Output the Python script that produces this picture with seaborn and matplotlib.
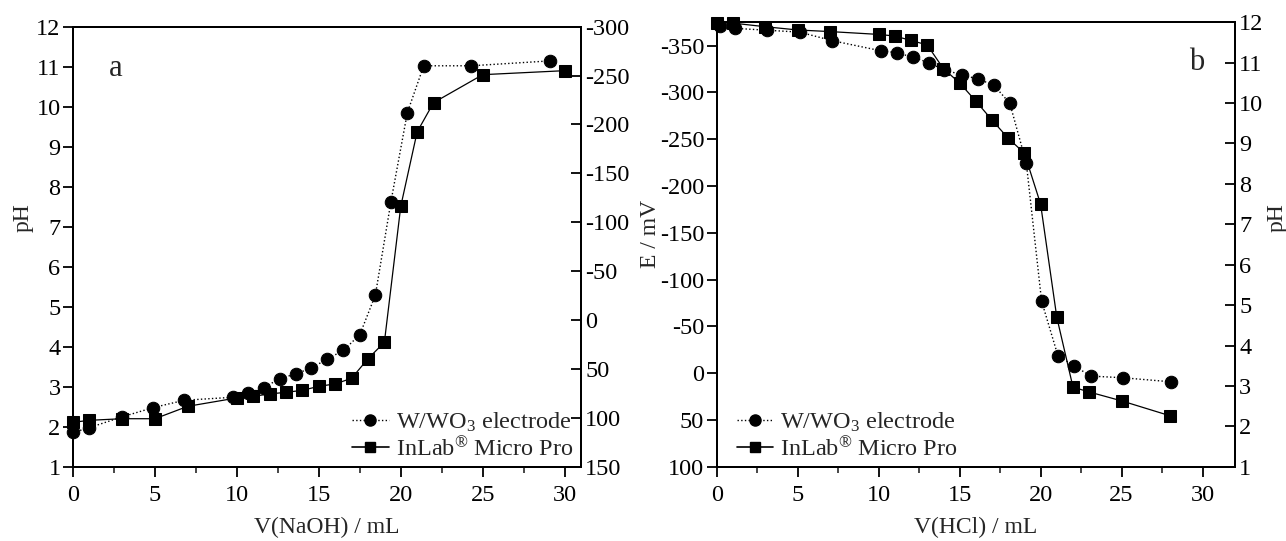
import matplotlib
matplotlib.use("Agg")
import matplotlib.pyplot as plt
from matplotlib.lines import Line2D
from matplotlib.ticker import MultipleLocator
import seaborn as sns

# ---------------- data ----------------
# panel a: titration with NaOH
a_w_v = [0, 1, 3, 4.9, 6.8, 9.75, 10.7, 11.65, 12.6, 13.6, 14.55, 15.5, 16.5, 17.5,
         18.45, 19.4, 20.4, 21.4, 24.3, 29.1]
a_w_e = [115, 110, 99, 89.5, 82, 79, 75, 69, 60, 55, 49, 40, 31, 15,
         -25.5, -121, -212, -260, -260, -265]
a_ref_v = [0, 1, 3, 5, 7, 10, 11, 12, 13, 14, 15, 16, 17, 18, 19, 20, 21, 22, 25, 30]
a_ref_ph = [2.11, 2.16, 2.2, 2.2, 2.51, 2.72, 2.76, 2.82, 2.86, 2.91, 3.01, 3.07, 3.21,
            3.7, 4.11, 7.51, 9.37, 10.1, 10.8, 10.9]

# panel b: titration with HCl
b_w_v = [0.2, 1.15, 3.12, 5.12, 7.15, 10.12, 11.12, 12.12, 13.1, 14.06, 15.12, 16.12,
         17.1, 18.1, 19.12, 20.06, 21.07, 22.06, 23.09, 25.07, 28.03]
b_w_e = [-371, -368.5, -366.5, -364.5, -355.3, -344.6, -342.5, -337.6, -331.8, -324,
         -319, -314.4, -308, -288.4, -224.3, -77.1, -18.6, -8, 3.1, 4.9, 9.2]
b_ref_v = [0, 1, 3, 5, 7, 10, 11, 12, 13, 14, 15, 16, 17, 18, 19, 20, 21, 22, 23, 25, 28]
b_ref_ph = [11.98, 11.98, 11.89, 11.81, 11.77, 11.70, 11.66, 11.55, 11.44, 10.85, 10.5,
            10.05, 9.58, 9.13, 8.76, 7.5, 4.70, 2.97, 2.85, 2.63, 2.26]

label_w = "W/WO$_3$ electrode"
label_ref = "InLab$^{\u00ae}$ Micro Pro"

# ---------------- style ----------------
sns.set_theme(style="ticks")
plt.rcParams["font.family"] = ["Liberation Serif", "DejaVu Serif"]
plt.rcParams["mathtext.fontset"] = "custom"
plt.rcParams["mathtext.rm"] = "Liberation Serif"
plt.rcParams["mathtext.it"] = "Liberation Serif:italic"
plt.rcParams["axes.unicode_minus"] = False

FS = 17.5
LFS = 17
fig = plt.figure(figsize=(12.86, 5.41), dpi=100)

ax_a = fig.add_axes([0.0568, 0.1373, 0.3950, 0.8134])
ax_ar = ax_a.twinx()
ax_b = fig.add_axes([0.5573, 0.1373, 0.4030, 0.8215])
ax_br = ax_b.twinx()

circ_kw = dict(color="black", marker="o", markersize=9, markeredgecolor="black",
               linestyle=":", linewidth=1.0, estimator=None, sort=False, clip_on=False)
sq_kw = dict(color="black", marker="s", markersize=8, markeredgecolor="black",
             linestyle="-", linewidth=0.9, estimator=None, sort=False, clip_on=False)

# panel a
sns.lineplot(x=a_ref_v, y=a_ref_ph, ax=ax_a, **sq_kw)
sns.lineplot(x=a_w_v, y=a_w_e, ax=ax_ar, **circ_kw)
ax_a.set_xlim(0, 31)
ax_a.set_ylim(1, 12)
ax_ar.set_ylim(150, -300)
ax_a.yaxis.set_major_locator(MultipleLocator(1))
ax_ar.yaxis.set_major_locator(MultipleLocator(50))
ax_a.set_xlabel("V(NaOH) / mL", fontsize=LFS, labelpad=8)
ax_a.set_ylabel("pH", fontsize=LFS)
ax_a.yaxis.set_label_coords(-0.078, 0.565)
ax_a.text(0.083, 0.905, "a", transform=ax_a.transAxes, fontsize=22, va="center", ha="center")

# panel b
sns.lineplot(x=b_w_v, y=b_w_e, ax=ax_b, **circ_kw)
sns.lineplot(x=b_ref_v, y=b_ref_ph, ax=ax_br, **sq_kw)
ax_b.set_xlim(0, 32)
ax_b.set_ylim(100, -375)
ax_br.set_ylim(1, 12)
ax_b.yaxis.set_major_locator(MultipleLocator(50))
ax_br.yaxis.set_major_locator(MultipleLocator(1))
ax_b.set_xlabel("V(HCl) / mL", fontsize=LFS, labelpad=8)
ax_b.set_ylabel("E / mV", fontsize=LFS)
ax_b.yaxis.set_label_coords(-0.107, 0.524)
ax_br.set_ylabel("pH", fontsize=LFS, rotation=90)
ax_br.yaxis.set_label_coords(1.062, 0.56)
ax_b.text(0.927, 0.91, "b", transform=ax_b.transAxes, fontsize=22, va="center", ha="center")

for ax in (ax_a, ax_b):
    ax.xaxis.set_major_locator(MultipleLocator(5))
    ax.xaxis.set_minor_locator(MultipleLocator(2.5))
    ax.tick_params(axis="x", which="major", direction="out", length=7, width=1.3,
                   labelsize=FS, pad=6, top=False)
    ax.tick_params(axis="x", which="minor", direction="out", length=4, width=1.2, top=False)
    ax.tick_params(axis="y", which="major", direction="out", length=7, width=1.3,
                   labelsize=FS, pad=2)
for ax in (ax_ar, ax_br):
    ax.tick_params(axis="y", which="major", direction="in", length=7, width=1.3,
                   labelsize=FS, pad=3)
for ax in (ax_a, ax_ar, ax_b, ax_br):
    for s in ax.spines.values():
        s.set_linewidth(1.4)
        s.set_color("black")
    ax.grid(False)
    ax.tick_params(colors="black")
ax_ar.set_ylabel("")

handles = [
    Line2D([], [], color="black", marker="o", markersize=8, linestyle=":", linewidth=1.0),
    Line2D([], [], color="black", marker="s", markersize=7, linestyle="-", linewidth=1.2),
]
leg_kw = dict(frameon=False, fontsize=FS, handlelength=1.5, handletextpad=0.3,
              labelspacing=0.12, borderpad=0, borderaxespad=0)
fig.legend(handles, [label_w, label_ref], loc="lower right",
           bbox_to_anchor=(0.446, 0.148), **leg_kw)
fig.legend(handles, [label_w, label_ref], loc="lower left",
           bbox_to_anchor=(0.5729, 0.148), **leg_kw)

fig.savefig("out.png", dpi=100)
